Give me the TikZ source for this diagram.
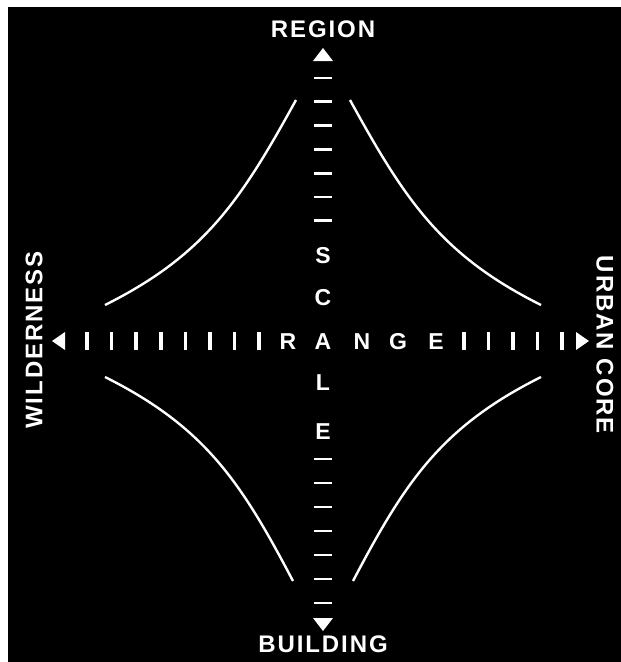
\documentclass[tikz,border=0pt]{standalone}
\usepackage{fontspec}
\setmainfont{Liberation Sans}
\usetikzlibrary{positioning}

\begin{document}
\begin{tikzpicture}[
  x=1pt, y=-1pt,
  title/.style={text=white, inner sep=0pt, font=\fontsize{24}{28}\selectfont\bfseries\addfontfeature{LetterSpace=8}},
  letter/.style={text=white, inner sep=0pt, font=\fontsize{23}{27}\selectfont\bfseries},
  dashtick/.style={draw=white, line width=2.8pt},
  bartick/.style={draw=white, line width=3.5pt},
  tip/.style={fill=white},
  curve/.style={draw=white, line width=2.4pt}
]
\useasboundingbox (0,0) rectangle (621,662);
\fill[white] (0,0) rectangle (621,662);
\fill[black] (8,7) rectangle (621,662);

% axis ends
\coordinate (uptip) at (323,48);
\coordinate (downtip) at (323,631);
\coordinate (lefttip) at (52,341);
\coordinate (righttip) at (589,341);

\fill[tip] (uptip) -- ++(-10,13) -- ++(20,0) -- cycle;
\fill[tip] (downtip) -- ++(-10,-13) -- ++(20,0) -- cycle;
\fill[tip] (lefttip) -- ++(13,-9) -- ++(0,18) -- cycle;
\fill[tip] (righttip) -- ++(-13,-9) -- ++(0,18) -- cycle;

% scale axis
\foreach \i in {0,...,6}
  \draw[dashtick] (314,78+23.8*\i) -- (332,78+23.8*\i);
\foreach \i in {0,...,6}
  \draw[dashtick] (314,459+24*\i) -- (332,459+24*\i);

\node[letter] (s) at (323,256) {S};
\node[letter] (c) at (323,298) {C};
\node[letter] (a) at (323,342) {A};
\node[letter] (l) at (323,383) {L};
\node[letter] (e) at (323,432) {E};

% range axis
\foreach \i in {0,...,7}
  \draw[bartick] (87+24.6*\i,332) -- (87+24.6*\i,350);
\foreach \i in {0,...,4}
  \draw[bartick] (464+24.5*\i,332) -- (464+24.5*\i,350);

\node[letter] (r) at (288,342) {R};
\node[letter] (n) at (362,342) {N};
\node[letter] (g) at (398,342) {G};
\node[letter] (e2) at (436,342) {E};

% end labels
\node[title] (region) at (323,29) {REGION};
\node[title] (building) at (323,644) {BUILDING};
\node[title, rotate=90] (wilderness) at (34,340) {WILDERNESS};
\node[title, rotate=-90] (urbancore) at (605,345) {URBAN CORE};

% curves
\draw[curve] (105,305) .. controls (205,255) and (241,200) .. (296,100);
\draw[curve] (350,100) .. controls (405,200) and (441,255) .. (541,305);
\draw[curve] (105,377) .. controls (205,427) and (241,482) .. (293,581);
\draw[curve] (353,581) .. controls (405,482) and (441,427) .. (541,377);

\end{tikzpicture}
\end{document}
